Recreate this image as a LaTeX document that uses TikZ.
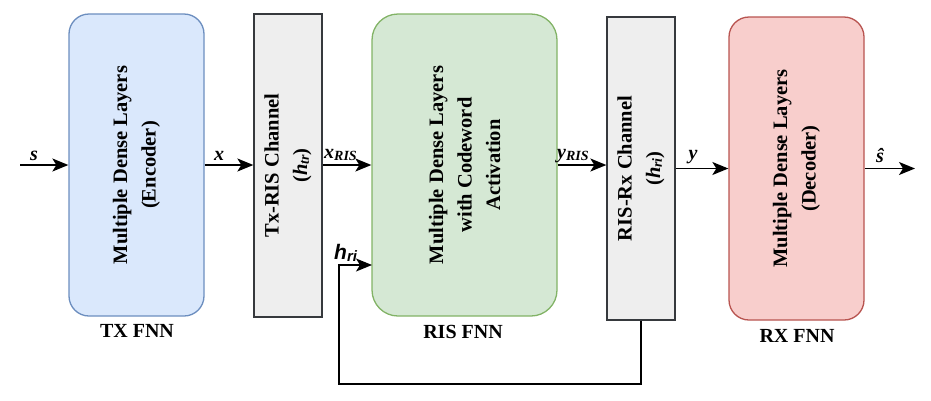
\documentclass[tikz,border=0pt]{standalone}
\usepackage{fontspec}
\setmainfont{Liberation Serif}
\setsansfont{Liberation Sans}
\usetikzlibrary{arrows.meta,calc}
\begin{document}
\begin{tikzpicture}[x=1pt,y=-1pt,
  boxbase/.style={draw, line width=1.3pt, inner sep=0pt},
  fnnbox/.style={boxbase, rounded corners=20pt},
  chanbox/.style={boxbase, fill=chanfill, draw=chandraw, minimum width=68pt, minimum height=303pt},
  boxtext/.style={rotate=90, align=center, font=\bfseries\fontsize{20.5}{28.5}\selectfont, inner sep=0pt},
  lbl/.style={font=\bfseries\itshape\fontsize{20}{24}\selectfont, inner sep=0pt},
  captext/.style={font=\bfseries\fontsize{20}{24}\selectfont, inner sep=0pt},
  conn/.style={line width=1.5pt, -{Stealth[length=16pt,width=13pt,inset=4pt]}},
]
\definecolor{txfill}{HTML}{DAE8FC}\definecolor{txdraw}{HTML}{6C8EBF}
\definecolor{risfill}{HTML}{D5E8D4}\definecolor{risdraw}{HTML}{82B366}
\definecolor{rxfill}{HTML}{F8CECC}\definecolor{rxdraw}{HTML}{B85450}
\definecolor{chanfill}{HTML}{EEEEEE}\definecolor{chandraw}{HTML}{36393D}
\useasboundingbox (0,0) rectangle (931,400);

\node[fnnbox, fill=txfill, draw=txdraw, minimum width=135pt, minimum height=302pt] (tx) at (136.5,165) {};
\node[chanbox] (ch1) at (288,165.5) {};
\node[fnnbox, fill=risfill, draw=risdraw, rounded corners=26pt, minimum width=185pt, minimum height=302pt] (ris) at (464.5,165) {};
\node[chanbox] (ch2) at (641,168.5) {};
\node[fnnbox, fill=rxfill, draw=rxdraw, minimum width=135pt, minimum height=303pt] (rx) at (796.5,168.5) {};

\node[boxtext] (txt1) at (tx.center) {Multiple Dense Layers\\(Encoder)};
\node[boxtext] (txt2) at (ch1.center) {Tx-RIS Channel\\(\textit{h}{\fontsize{14}{14}\selectfont\raisebox{-0.25ex}{\textit{tr}}})};
\node[boxtext] (txt3) at (ris.center) {Multiple Dense Layers\\with Codeword\\Activation};
\node[boxtext] (txt4) at (ch2.center) {RIS-Rx Channel\\(\textit{h}{\fontsize{14}{14}\selectfont\raisebox{-0.25ex}{\textit{ri}}})};
\node[boxtext] (txt5) at (rx.center) {Multiple Dense Layers\\(Decoder)};

\node[captext] (c1) at (137,331) {TX FNN};
\node[captext] (c2) at (463,332) {RIS FNN};
\node[captext] (c3) at (797,336) {RX FNN};

\coordinate (sin) at (20,165);
\coordinate (sout) at (915,168.5);
\coordinate (fbin) at (372,265);
\coordinate (fbcorner) at (339,384);

\draw[conn] (sin) -- (tx.west);
\draw[conn] (tx.east) -- (tx.east -| ch1.west);
\draw[conn] (ch1.east |- tx.east) -- (tx.east -| ris.west);
\draw[conn] (ris.east) -- (ris.east -| ch2.west);
\draw[conn] (ch2.east) -- (rx.west);
\draw[conn] (rx.east) -- (sout);
\draw[conn] (ch2.south) |- (fbcorner) -- (fbcorner |- fbin) -- (fbin);

\node[lbl] (ls) at (34,156) {s};
\node[lbl] (lx) at (219,156) {x};
\node[lbl, anchor=west] (lxr) at (324,155) {x{\fontsize{14}{14}\selectfont\raisebox{-0.3ex}{RIS}}};
\node[lbl, anchor=west] (lyr) at (557,156) {y{\fontsize{14}{14}\selectfont\raisebox{-0.3ex}{RIS}}};
\node[lbl] (ly) at (693,157) {y};
\node[lbl] (lsh) at (880,156) {\^{s}};
\node[font=\sffamily\bfseries\itshape\fontsize{21}{24}\selectfont, inner sep=0pt, anchor=west] (lh) at (334,253) {h{\fontsize{15}{15}\selectfont\raisebox{-0.3ex}{ri}}};
\end{tikzpicture}
\end{document}
